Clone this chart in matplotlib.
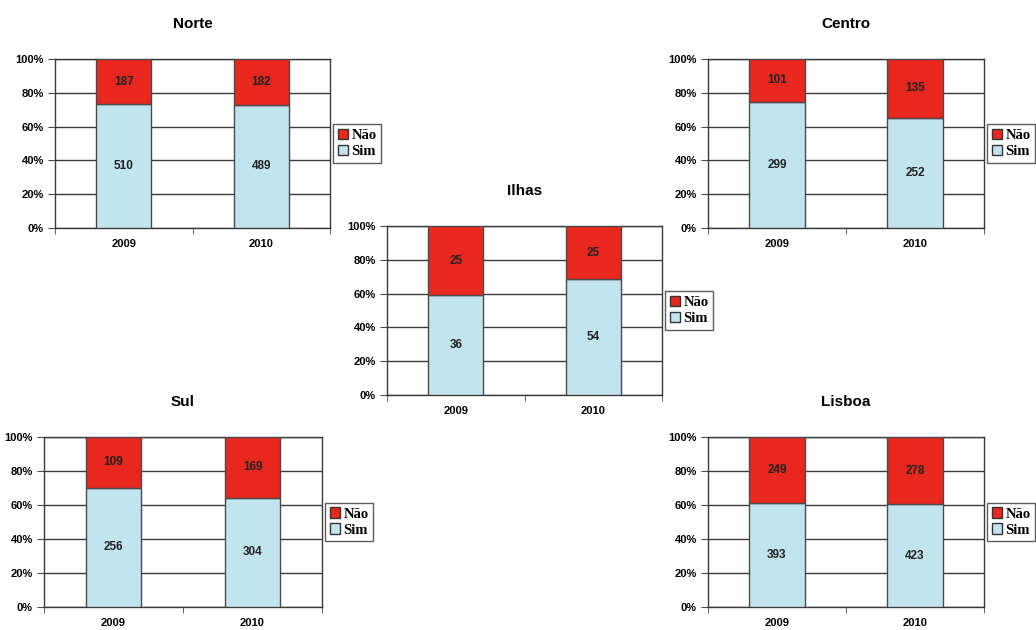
import numpy as np
import matplotlib.pyplot as plt
from matplotlib.patches import Patch

plt.rcParams['font.family'] = ['Liberation Sans', 'DejaVu Sans']

years = ['2009', '2010']

sim_norte = [510, 489]
nao_norte = [187, 182]
sim_centro = [299, 252]
nao_centro = [101, 135]
sim_ilhas = [36, 54]
nao_ilhas = [25, 25]
sim_sul = [256, 304]
nao_sul = [109, 169]
sim_lisboa = [393, 423]
nao_lisboa = [249, 278]

red = '#e8271f'
blue = '#c2e4ef'
edge = '#4a4a4a'

fig = plt.figure(figsize=(10.36, 6.30), dpi=100)


def add_px_axes(l, t, r, b):
    return fig.add_axes([l / 1036, 1 - b / 630, (r - l) / 1036, (b - t) / 630])


def draw(ax, title, sim, nao):
    sim = np.array(sim, dtype=float)
    nao = np.array(nao, dtype=float)
    tot = sim + nao
    sim_p = sim / tot * 100
    nao_p = nao / tot * 100
    x = np.arange(len(years))
    ax.bar(x, sim_p, width=0.4, color=blue, edgecolor=edge, linewidth=1, zorder=3)
    ax.bar(x, nao_p, bottom=sim_p, width=0.4, color=red, edgecolor=edge, linewidth=1, zorder=3)
    for i in range(len(x)):
        ax.text(x[i], sim_p[i] / 2, '%d' % sim[i], ha='center', va='center',
                fontsize=8.5, fontweight='bold', color='#222222', zorder=4)
        ax.text(x[i], sim_p[i] + nao_p[i] / 2, '%d' % nao[i], ha='center', va='center',
                fontsize=8.5, fontweight='bold', color='#222222', zorder=4)
    ax.set_xlim(-0.5, 1.5)
    ax.set_ylim(0, 100)
    ax.set_yticks(range(0, 101, 20))
    ax.set_yticklabels(['%d%%' % v for v in range(0, 101, 20)], fontsize=8, fontweight='bold')
    ax.set_xticks(x)
    ax.set_xticklabels(years, fontsize=8, fontweight='bold')
    ax.tick_params(axis='x', length=0, pad=8)
    ax.set_xticks([-0.5, 0.5, 1.5], minor=True)
    ax.tick_params(axis='x', which='minor', length=4, color=edge)
    ax.tick_params(axis='y', length=5, color=edge, pad=3)
    ax.yaxis.grid(True, color='#3a3a3a', linewidth=1)
    ax.set_axisbelow(True)
    for s in ax.spines.values():
        s.set_color('#3a3a3a')
        s.set_linewidth(1)
    ax.set_title(title, fontsize=11, fontweight='bold', pad=22)
    handles = [Patch(facecolor=red, edgecolor='#333333'), Patch(facecolor=blue, edgecolor='#333333')]
    leg = ax.legend(handles, ['Não', 'Sim'], loc='center left', bbox_to_anchor=(1.012, 0.5),
                    prop=dict(family='Liberation Serif', weight='bold', size=10.5),
                    frameon=True, fancybox=False, edgecolor='#333333',
                    handlelength=0.7, handleheight=0.7, handletextpad=0.25,
                    borderpad=0.3, labelspacing=0.2, borderaxespad=0)
    leg.get_frame().set_linewidth(1)


draw(add_px_axes(55, 59, 330, 228), 'Norte', sim_norte, nao_norte)
draw(add_px_axes(708, 59, 984, 228), 'Centro', sim_centro, nao_centro)
draw(add_px_axes(387, 226, 662, 395), 'Ilhas', sim_ilhas, nao_ilhas)
draw(add_px_axes(44, 437, 322, 607), 'Sul', sim_sul, nao_sul)
draw(add_px_axes(708, 437, 984, 607), 'Lisboa', sim_lisboa, nao_lisboa)

fig.savefig('out.png', dpi=100)
